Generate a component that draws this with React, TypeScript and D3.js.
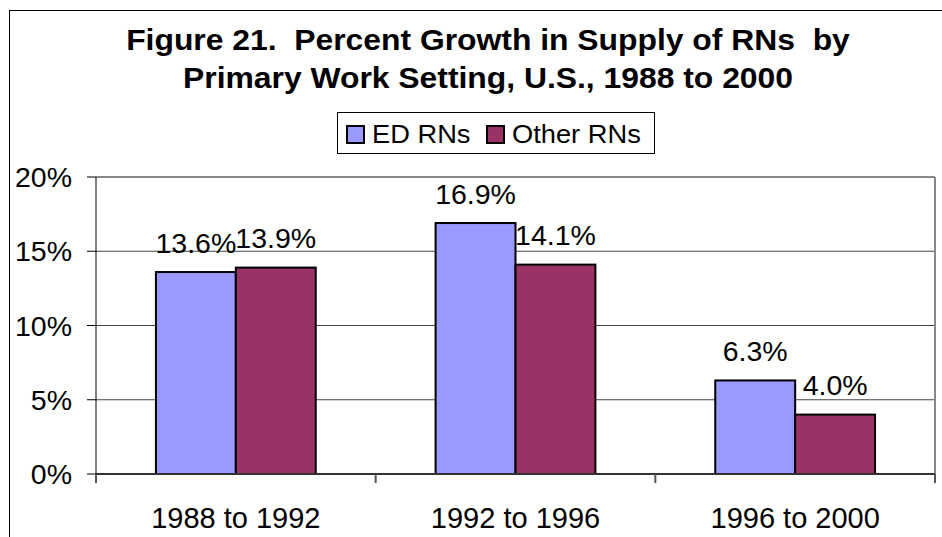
import React from "react";
import * as d3 from "d3";

const categories = ["1988 to 1992", "1992 to 1996", "1996 to 2000"];
const seriesNames = ["ED RNs", "Other RNs"];
const edValues = [13.6, 16.9, 6.3];
const otherValues = [13.9, 14.1, 4.0];
const yTicks = [0, 5, 10, 15, 20];
const titleLines = [
  "Figure 21.  Percent Growth in Supply of RNs  by",
  "Primary Work Setting, U.S., 1988 to 2000",
];
const colors = ["#9999FF", "#993366"];

const W = 942;
const H = 537;
const plot = { left: 96, right: 935, top: 177, bottom: 474 };
const FONT = "Arial, 'Liberation Sans', sans-serif";

export default function App() {
  const x = d3
    .scaleBand<string>()
    .domain(categories)
    .range([plot.left, plot.right])
    .paddingInner(0)
    .paddingOuter(0);
  const inner = d3
    .scaleBand<string>()
    .domain(seriesNames)
    .range([0, x.bandwidth()])
    .paddingOuter(0.75)
    .paddingInner(0);
  const y = d3.scaleLinear().domain([0, 20]).range([plot.bottom, plot.top]);
  const series = [edValues, otherValues];
  const boundaries = [0, 1, 2, 3].map((i) => plot.left + i * x.bandwidth());

  return (
    <svg
      width={W}
      height={H}
      style={{ position: "absolute", left: 0, top: 0, background: "#fff" }}
      fontFamily={FONT}
    >
      {/* outer frame */}
      <rect x={9.5} y={10.5} width={1000} height={600} fill="#fff" stroke="#000" strokeWidth={1} />

      {/* title */}
      {titleLines.map((t, i) => (
        <text
          key={i}
          transform={`translate(488,${50 + i * 38}) scale(1.08,1)`}
          textAnchor="middle"
          fontSize={29.5}
          fontWeight="bold"
          fill="#000"
          style={{ whiteSpace: "pre" }}
        >
          {t}
        </text>
      ))}

      {/* legend */}
      <rect x={337.5} y={112.5} width={317} height={41} fill="#fff" stroke="#000" strokeWidth={1} />
      {seriesNames.map((s, i) => {
        const lx = [347, 487][i];
        return (
          <g key={s}>
            <rect x={lx} y={126} width={17} height={17} fill={colors[i]} stroke="#000" strokeWidth={2} />
            <text
              transform={`translate(${lx + 25},142.5) scale(1.07,1)`}
              fontSize={25.5}
              fill="#000"
            >
              {s}
            </text>
          </g>
        );
      })}

      {/* gridlines */}
      {yTicks.map((t) => (
        <g key={t}>
          {t > 0 && t < 20 && (
            <line x1={plot.left} x2={plot.right} y1={y(t)} y2={y(t)} stroke="#444" strokeWidth={1} />
          )}
          <line x1={plot.left - 9} x2={plot.left} y1={y(t)} y2={y(t)} stroke="#000" strokeWidth={1} />
          <text x={72} y={y(t) + 10} textAnchor="end" fontSize={28.5} fill="#000">
            {t}%
          </text>
        </g>
      ))}
      {/* plot top and right borders */}
      <line x1={plot.left} x2={plot.right} y1={plot.top} y2={plot.top} stroke="#888" strokeWidth={2} />
      <line x1={plot.right} x2={plot.right} y1={plot.top} y2={plot.bottom} stroke="#888" strokeWidth={2} />

      {/* bars */}
      {categories.map((c, ci) => (
        <g key={c}>
          {seriesNames.map((s, si) => {
            const v = series[si][ci];
            const bx = (x(c) as number) + (inner(s) as number);
            const by = y(v);
            return (
              <g key={s}>
                <rect
                  x={bx}
                  y={by}
                  width={inner.bandwidth()}
                  height={y(0) - by}
                  fill={colors[si]}
                  stroke="#000"
                  strokeWidth={2}
                />
                <text
                  x={bx + inner.bandwidth() / 2}
                  y={by - 19.5}
                  textAnchor="middle"
                  fontSize={28.5}
                  fill="#000"
                >
                  {v.toFixed(1)}%
                </text>
              </g>
            );
          })}
        </g>
      ))}

      {/* axes */}
      <line x1={plot.left} x2={plot.right} y1={plot.bottom} y2={plot.bottom} stroke="#333" strokeWidth={2} />
      <line x1={plot.left} x2={plot.left} y1={plot.top} y2={plot.bottom + 9} stroke="#000" strokeWidth={1} />
      {boundaries.map((bx, i) => (
        <line key={i} x1={bx} x2={bx} y1={plot.bottom} y2={plot.bottom + 9} stroke="#555" strokeWidth={2} />
      ))}
      {categories.map((c) => (
        <text
          key={c}
          x={(x(c) as number) + x.bandwidth() / 2}
          y={527.5}
          textAnchor="middle"
          fontSize={29}
          fill="#000"
        >
          {c}
        </text>
      ))}
    </svg>
  );
}
